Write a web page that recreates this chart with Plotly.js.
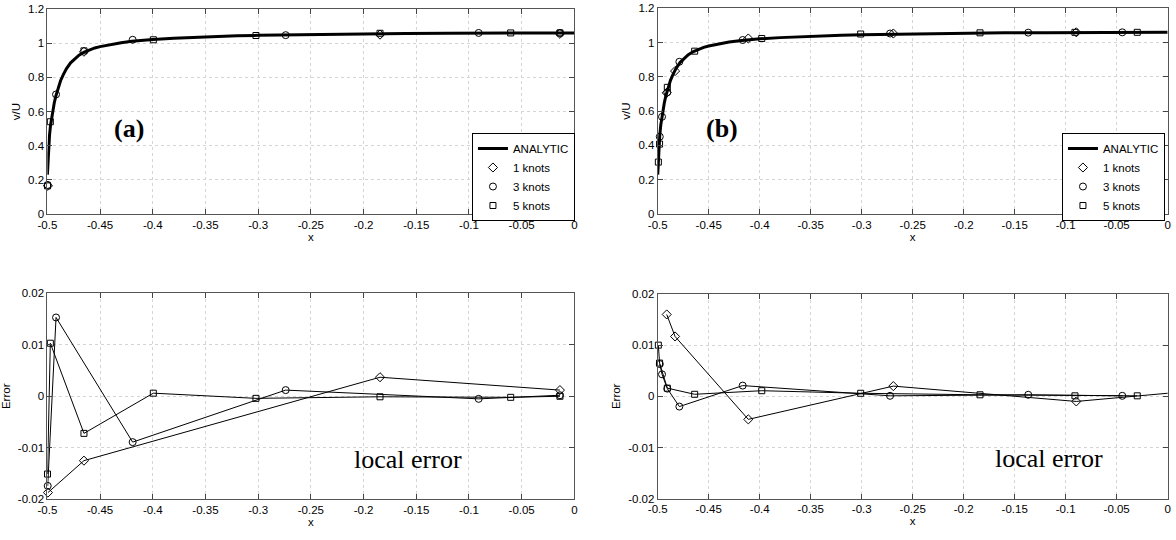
<!DOCTYPE html>
<html>
<head>
<meta charset="utf-8">
<script src="https://cdn.plot.ly/plotly-3.0.1.min.js"></script>
<style>html,body{margin:0;padding:0;background:#fff;}#chart{width:1176px;height:540px;}</style>
</head>
<body>
<div id="chart"></div>
<script>
// ---- Analytic solution ----
const analyticX = [-0.5, -0.4995, -0.499, -0.4985, -0.498, -0.497, -0.496, -0.495, -0.4935, -0.492, -0.49, -0.4875, -0.485, -0.482, -0.478, -0.474, -0.47, -0.465, -0.46, -0.455, -0.45, -0.44, -0.43, -0.42, -0.41, -0.40, -0.38, -0.36, -0.34, -0.32, -0.30, -0.27, -0.24, -0.20, -0.16, -0.12, -0.08, -0.04, 0];
const analyticV = [0.23, 0.30, 0.37, 0.42, 0.46, 0.52, 0.565, 0.60, 0.65, 0.69, 0.735, 0.78, 0.815, 0.85, 0.885, 0.91, 0.93, 0.948, 0.962, 0.972, 0.98, 0.993, 1.003, 1.011, 1.017, 1.022, 1.029, 1.035, 1.039, 1.043, 1.046, 1.049, 1.052, 1.055, 1.057, 1.058, 1.059, 1.06, 1.06];

// ---- Panel (a) ----
const xA1 = [-0.4995, -0.4653, -0.1844, -0.0137];
const vA1 = [0.165, 0.95, 1.05, 1.055];
const eA1 = [-0.0187, -0.0125, 0.0037, 0.0012];

const xA3 = [-0.4997, -0.4918, -0.4191, -0.2739, -0.0908, -0.0137];
const vA3 = [0.17, 0.70, 1.02, 1.047, 1.06, 1.06];
const eA3 = [-0.0174, 0.0153, -0.0089, 0.0012, -0.0005, 0.0002];

const xA5 = [-0.4999, -0.4972, -0.4653, -0.3995, -0.3021, -0.1844, -0.0604, -0.0137];
const vA5 = [0.165, 0.54, 0.955, 1.02, 1.045, 1.058, 1.06, 1.06];
const eA5 = [-0.0151, 0.0103, -0.0072, 0.0006, -0.0004, -0.0001, -0.0002, 0.0000];

// ---- Panel (b) ----
const xB1 = [-0.4912, -0.4830, -0.4112, -0.2690, -0.0896, 0.02];
const vB1 = [0.707, 0.834, 1.024, 1.053, 1.06, 1.06];
const eB1 = [0.0160, 0.0117, -0.0045, 0.0020, -0.0010, 0.00096];

const xB3 = [-0.4980, -0.4958, -0.4906, -0.4788, -0.4167, -0.2722, -0.1367, -0.0445];
const vB3 = [0.451, 0.567, 0.71, 0.888, 1.015, 1.053, 1.058, 1.06];
const eB3 = [0.0063, 0.0043, 0.0015, -0.0020, 0.0021, 0.0001, 0.0003, 0.0001];

const xB5 = [-0.4994, -0.4982, -0.4906, -0.4638, -0.3980, -0.3010, -0.1840, -0.0909, -0.0298];
const vB5 = [0.303, 0.408, 0.739, 0.950, 1.024, 1.050, 1.057, 1.06, 1.06];
const eB5 = [0.0100, 0.0065, 0.0016, 0.0004, 0.0011, 0.0006, 0.0003, 0.0001, 0.0001];

// ---- Labels ----
const seriesNames = ['ANALYTIC', '1 knots', '3 knots', '5 knots'];
const xTickVals = [-0.5, -0.45, -0.4, -0.35, -0.3, -0.25, -0.2, -0.15, -0.1, -0.05, 0];
const xTickText = ['-0.5', '-0.45', '-0.4', '-0.35', '-0.3', '-0.25', '-0.2', '-0.15', '-0.1', '-0.05', '0'];
const vTickVals = [0, 0.2, 0.4, 0.6, 0.8, 1, 1.2];
const vTickText = ['0', '0.2', '0.4', '0.6', '0.8', '1', '1.2'];
const eTickVals = [-0.02, -0.01, 0, 0.01, 0.02];
const eTickText = ['-0.02', '-0.01', '0', '0.01', '0.02'];
const panelLabels = ['(a)', '(b)'];
const noteText = 'local error';

const symbols = ['diamond-open', 'circle-open', 'square-open'];
const FONT = 'Liberation Sans, Arial, sans-serif';

function topTraces(xs, vs, xa, ya, legendId, clipFlags) {
  const t = [{
    x: analyticX, y: analyticV, xaxis: xa, yaxis: ya, mode: 'lines', name: seriesNames[0],
    line: {color: '#000', width: 3}, legend: legendId, cliponaxis: false
  }];
  for (let i = 0; i < 3; i++) {
    t.push({
      x: xs[i], y: vs[i], xaxis: xa, yaxis: ya, mode: 'markers', name: seriesNames[i + 1],
      marker: {symbol: symbols[i], size: i === 2 ? 6 : 7, color: '#000', line: {width: 1, color: '#000'}},
      legend: legendId, cliponaxis: clipFlags[i]
    });
  }
  return t;
}
function botTraces(xs, es, xa, ya, clipFlags) {
  const t = [];
  for (let i = 0; i < 3; i++) {
    t.push({
      x: xs[i], y: es[i], xaxis: xa, yaxis: ya, mode: 'lines+markers', showlegend: false,
      line: {color: '#000', width: 1},
      marker: {symbol: symbols[i], size: i === 2 ? 6 : 7, color: '#000', line: {width: 1, color: '#000'}},
      cliponaxis: clipFlags[i]
    });
  }
  return t;
}

const data = [].concat(
  topTraces([xA1, xA3, xA5], [vA1, vA3, vA5], 'x', 'y', 'legend', [false, false, false]),
  botTraces([xA1, xA3, xA5], [eA1, eA3, eA5], 'x2', 'y2', [false, false, false]),
  topTraces([xB1, xB3, xB5], [vB1, vB3, vB5], 'x3', 'y3', 'legend2', [true, false, false]),
  botTraces([xB1, xB3, xB5], [eB1, eB3, eB5], 'x4', 'y4', [true, false, false])
);

function xAxis(domain, anchor) {
  return {
    domain: domain, anchor: anchor, range: [-0.5, 0], tickmode: 'array', tickvals: xTickVals, ticktext: xTickText,
    ticks: 'inside', ticklen: 5, tickcolor: '#444', showline: true, linecolor: '#555', linewidth: 1, mirror: 'ticks',
    showgrid: true, gridcolor: '#d4d4d4', griddash: 'dot', gridwidth: 1, zeroline: false,
    tickfont: {family: FONT, size: 11.5, color: '#000'},
    title: {text: 'x', font: {family: FONT, size: 11.5, color: '#000'}, standoff: 0}
  };
}
function yAxis(domain, anchor, range, tv, tt, title) {
  return {
    domain: domain, anchor: anchor, range: range, tickmode: 'array', tickvals: tv, ticktext: tt,
    ticks: 'inside', ticklen: 5, tickcolor: '#444', showline: true, linecolor: '#555', linewidth: 1, mirror: 'ticks',
    showgrid: true, gridcolor: '#d4d4d4', griddash: 'dot', gridwidth: 1, zeroline: false,
    tickfont: {family: FONT, size: 11.5, color: '#000'},
    title: {text: title, font: {family: FONT, size: 11.5, color: '#000'}, standoff: 5}
  };
}

const legendStyle = (x) => ({
  x: x, xanchor: 'right', y: 0.7537, yanchor: 'top', bgcolor: '#fff', bordercolor: '#000', borderwidth: 1,
  font: {family: FONT, size: 11.5, color: '#000'}, tracegroupgap: 0
});

const layout = {
  width: 1176, height: 540, margin: {l: 0, r: 0, t: 0, b: 0}, paper_bgcolor: '#fff', plot_bgcolor: '#fff',
  showlegend: true,
  xaxis: xAxis([0.0403, 0.4884], 'y'),
  yaxis: yAxis([0.6037, 0.9833], 'x', [0, 1.2], vTickVals, vTickText, 'v/U'),
  xaxis2: xAxis([0.0403, 0.4884], 'y2'),
  yaxis2: yAxis([0.0754, 0.4569], 'x2', [-0.02, 0.02], eTickVals, eTickText, 'Error'),
  xaxis3: xAxis([0.5593, 0.9929], 'y3'),
  yaxis3: yAxis([0.6037, 0.9846], 'x3', [0, 1.2], vTickVals, vTickText, 'v/U'),
  xaxis4: xAxis([0.5593, 0.9929], 'y4'),
  yaxis4: yAxis([0.0765, 0.4556], 'x4', [-0.02, 0.02], eTickVals, eTickText, 'Error'),
  legend: legendStyle(0.4889),
  legend2: legendStyle(0.9906),
  annotations: [
    {xref: 'x', yref: 'y', x: -0.4223, y: 0.50, text: '<b>' + panelLabels[0] + '</b>', showarrow: false,
     font: {family: 'Liberation Serif, Times New Roman, serif', size: 26, color: '#000'}},
    {xref: 'x3', yref: 'y3', x: -0.437, y: 0.50, text: '<b>' + panelLabels[1] + '</b>', showarrow: false,
     font: {family: 'Liberation Serif, Times New Roman, serif', size: 26, color: '#000'}},
    {xref: 'x2', yref: 'y2', x: -0.158, y: -0.0122, text: noteText, showarrow: false,
     font: {family: 'Liberation Serif, Times New Roman, serif', size: 26, color: '#000'}},
    {xref: 'x4', yref: 'y4', x: -0.116, y: -0.0122, text: noteText, showarrow: false,
     font: {family: 'Liberation Serif, Times New Roman, serif', size: 26, color: '#000'}}
  ]
};

Plotly.newPlot('chart', data, layout, {displayModeBar: false, staticPlot: true});
</script>
</body>
</html>
